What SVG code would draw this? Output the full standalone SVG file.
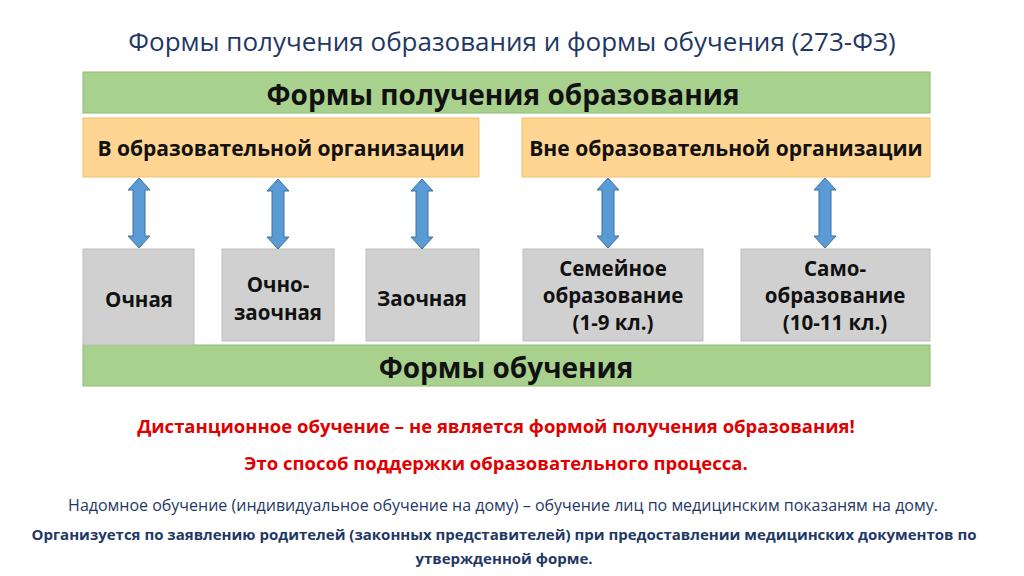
<svg xmlns="http://www.w3.org/2000/svg" width="1024" height="576" viewBox="0 0 1024 576">
<style>
text{font-family:"Open Sans","Liberation Sans",sans-serif;text-anchor:middle}
.g{fill:#a9d18e;stroke:#8fbc70;stroke-width:1}
.o{fill:#ffd591;stroke:#f0c070;stroke-width:1}
.b{fill:#d0d0d0;stroke:#bdbdbd;stroke-width:1}
.h{font-weight:bold;fill:#111}
.a{fill:#5b9bd5;stroke:#41719c;stroke-width:1}
.r{fill:#e00000;font-weight:bold;font-size:18.5px}
.n{fill:#1f3864}
</style>
<defs><path id="arr" d="M0,0 L11,12 L6,12 L6,58 L11,58 L0,70 L-11,58 L-6,58 L-6,12 L-11,12 Z"/></defs>
<rect width="1024" height="576" fill="#fff"/>
<text x="512" y="51" font-size="26" fill="#1f3864">Формы получения образования и формы обучения (273-ФЗ)</text>
<g id="top"><rect class="g" x="83" y="72" width="847" height="41"/><text class="h" x="503" y="105" font-size="28">Формы получения образования</text></g>
<g id="in"><rect class="o" x="83" y="118" width="396" height="59"/><text class="h" x="281" y="156" font-size="21">В образовательной организации</text></g>
<g id="out"><rect class="o" x="522" y="118" width="408" height="59"/><text class="h" x="726" y="156" font-size="21">Вне образовательной организации</text></g>
<g id="bottom"><rect class="g" x="83" y="345" width="847" height="41"/><text class="h" x="506" y="378" font-size="28">Формы обучения</text></g>
<g id="n1"><rect class="b" x="83" y="249" width="111" height="96"/><text class="h" x="139" y="307" font-size="20.5">Очная</text></g>
<g id="n2"><rect class="b" x="222" y="249" width="112" height="92"/><text class="h" x="278" y="292" font-size="20.5">Очно-</text><text class="h" x="278" y="320" font-size="20.5">заочная</text></g>
<g id="n3"><rect class="b" x="366" y="249" width="113" height="92"/><text class="h" x="422" y="306" font-size="20.5">Заочная</text></g>
<g id="n4"><rect class="b" x="523" y="249" width="180" height="92"/><text class="h" x="613" y="276" font-size="20.5">Семейное</text><text class="h" x="613" y="303" font-size="20.5">образование</text><text class="h" x="613" y="330" font-size="20.5">(1-9 кл.)</text></g>
<g id="n5"><rect class="b" x="741" y="249" width="189" height="92"/><text class="h" x="835" y="276" font-size="20.5">Само-</text><text class="h" x="835" y="303" font-size="20.5">образование</text><text class="h" x="835" y="330" font-size="20.5">(10-11 кл.)</text></g>
<g id="connectors">
<use href="#arr" class="a" x="139" y="178"/>
<use href="#arr" class="a" x="278" y="179"/>
<use href="#arr" class="a" x="422" y="179"/>
<use href="#arr" class="a" x="608" y="178"/>
<use href="#arr" class="a" x="825" y="178"/>
</g>
<text class="r" x="496" y="433">Дистанционное обучение – не является формой получения образования!</text>
<text class="r" x="496" y="470">Это способ поддержки образовательного процесса.</text>
<text class="n" x="503" y="511" font-size="16">Надомное обучение (индивидуальное обучение на дому) – обучение лиц по медицинским показаням на дому.</text>
<text class="n" x="504" y="540" font-size="15" font-weight="bold">Организуется по заявлению родителей (законных представителей) при предоставлении медицинских документов по</text>
<text class="n" x="504" y="564" font-size="15" font-weight="bold">утвержденной форме.</text>
</svg>
